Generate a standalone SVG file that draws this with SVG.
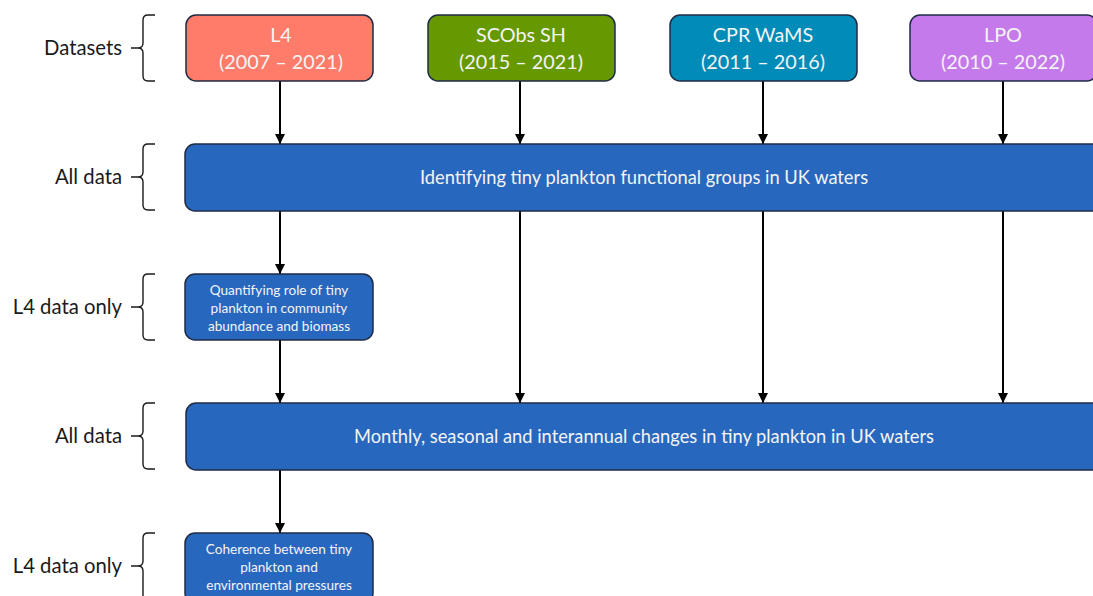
<svg xmlns="http://www.w3.org/2000/svg" width="1093" height="596" viewBox="0 0 1093 596">
<defs>
<style>
.lbl{font-family:Lato,"Open Sans","Liberation Sans",sans-serif;font-size:20.3px;fill:#1a1a1a;text-anchor:end}
.bx{stroke:#1F2B45;stroke-width:1.5}
.t{font-family:Lato,"Open Sans","Liberation Sans",sans-serif;fill:#F4F4F4;text-anchor:middle}
.big{font-size:19.8px}
.mid{font-size:18.3px}
.sm{font-size:13.6px}
.brace{fill:none;stroke:#1a1a1a;stroke-width:1.4}
.arr{stroke:#000;stroke-width:2;fill:none;marker-end:url(#ah)}
</style>
<marker id="ah" viewBox="0 0 10 10" refX="10" refY="5" markerWidth="5" markerHeight="5" orient="auto" markerUnits="strokeWidth">
<path d="M0,0 L10,5 L0,10 z" fill="#000"/>
</marker>
</defs>
<rect width="1093" height="596" fill="#fff"/>

<g id="labels">
<text class="lbl" x="122" y="55">Datasets</text>
<text class="lbl" x="122" y="184">All data</text>
<text class="lbl" x="122" y="314">L4 data only</text>
<text class="lbl" x="122" y="443">All data</text>
<text class="lbl" x="122" y="573">L4 data only</text>
</g>

<g id="braces">
<path class="brace" d="M155,15 H148 Q143,15 143,20 V43 Q143,48 138,48 H131 M138,48 Q143,48 143,53 V76 Q143,81 148,81 H155"/>
<path class="brace" d="M155,144 H148 Q143,144 143,149 V172 Q143,177 138,177 H131 M138,177 Q143,177 143,182 V205 Q143,210 148,210 H155"/>
<path class="brace" d="M155,274 H148 Q143,274 143,279 V302 Q143,307 138,307 H131 M138,307 Q143,307 143,312 V335 Q143,340 148,340 H155"/>
<path class="brace" d="M155,403 H148 Q143,403 143,408 V431 Q143,436 138,436 H131 M138,436 Q143,436 143,441 V464 Q143,469 148,469 H155"/>
<path class="brace" d="M155,533 H148 Q143,533 143,538 V561 Q143,566 138,566 H131 M138,566 Q143,566 143,571 V596"/>
</g>

<g id="connectors">
<line class="arr" x1="280" y1="81" x2="280" y2="144"/>
<line class="arr" x1="520" y1="81" x2="520" y2="144"/>
<line class="arr" x1="763" y1="81" x2="763" y2="144"/>
<line class="arr" x1="1003" y1="81" x2="1003" y2="144"/>
<line class="arr" x1="280" y1="211" x2="280" y2="274"/>
<line class="arr" x1="520" y1="211" x2="520" y2="403"/>
<line class="arr" x1="763" y1="211" x2="763" y2="403"/>
<line class="arr" x1="1003" y1="211" x2="1003" y2="403"/>
<line class="arr" x1="280" y1="340" x2="280" y2="403"/>
<line class="arr" x1="280" y1="470" x2="280" y2="533"/>
</g>

<g id="node-l4">
<rect class="bx" x="186" y="15" width="187" height="66" rx="10" fill="#FF7B6A"/>
<text class="t big" x="281" y="42">L4</text>
<text class="t big" x="281" y="69">(2007 – 2021)</text>
</g>
<g id="node-scobs">
<rect class="bx" x="428" y="15" width="187" height="66" rx="10" fill="#669900"/>
<text class="t big" x="521" y="42">SCObs SH</text>
<text class="t big" x="521" y="69">(2015 – 2021)</text>
</g>
<g id="node-cpr">
<rect class="bx" x="670" y="15" width="187" height="66" rx="10" fill="#008BB9"/>
<text class="t big" x="763" y="42">CPR WaMS</text>
<text class="t big" x="763" y="69">(2011 – 2016)</text>
</g>
<g id="node-lpo">
<rect class="bx" x="910" y="15" width="187" height="66" rx="10" fill="#C47AEA"/>
<text class="t big" x="1003" y="42">LPO</text>
<text class="t big" x="1003" y="69">(2010 – 2022)</text>
</g>

<g id="node-identify">
<rect class="bx" x="185" y="144" width="920" height="67" rx="10" fill="#2867BE"/>
<text class="t mid" x="644" y="184">Identifying tiny plankton functional groups in UK waters</text>
</g>
<g id="node-quantify">
<rect class="bx" x="185" y="274" width="188" height="66" rx="10" fill="#2867BE"/>
<text class="t sm" x="279" y="295">Quantifying role of tiny</text>
<text class="t sm" x="279" y="313">plankton in community</text>
<text class="t sm" x="279" y="331">abundance and biomass</text>
</g>
<g id="node-monthly">
<rect class="bx" x="186" y="403" width="920" height="67" rx="10" fill="#2867BE"/>
<text class="t mid" x="644" y="443">Monthly, seasonal and interannual changes in tiny plankton in UK waters</text>
</g>
<g id="node-coherence">
<rect class="bx" x="185" y="533" width="188" height="70" rx="10" fill="#2867BE"/>
<text class="t sm" x="279" y="554">Coherence between tiny</text>
<text class="t sm" x="279" y="572">plankton and</text>
<text class="t sm" x="279" y="590">environmental pressures</text>
</g>
</svg>
